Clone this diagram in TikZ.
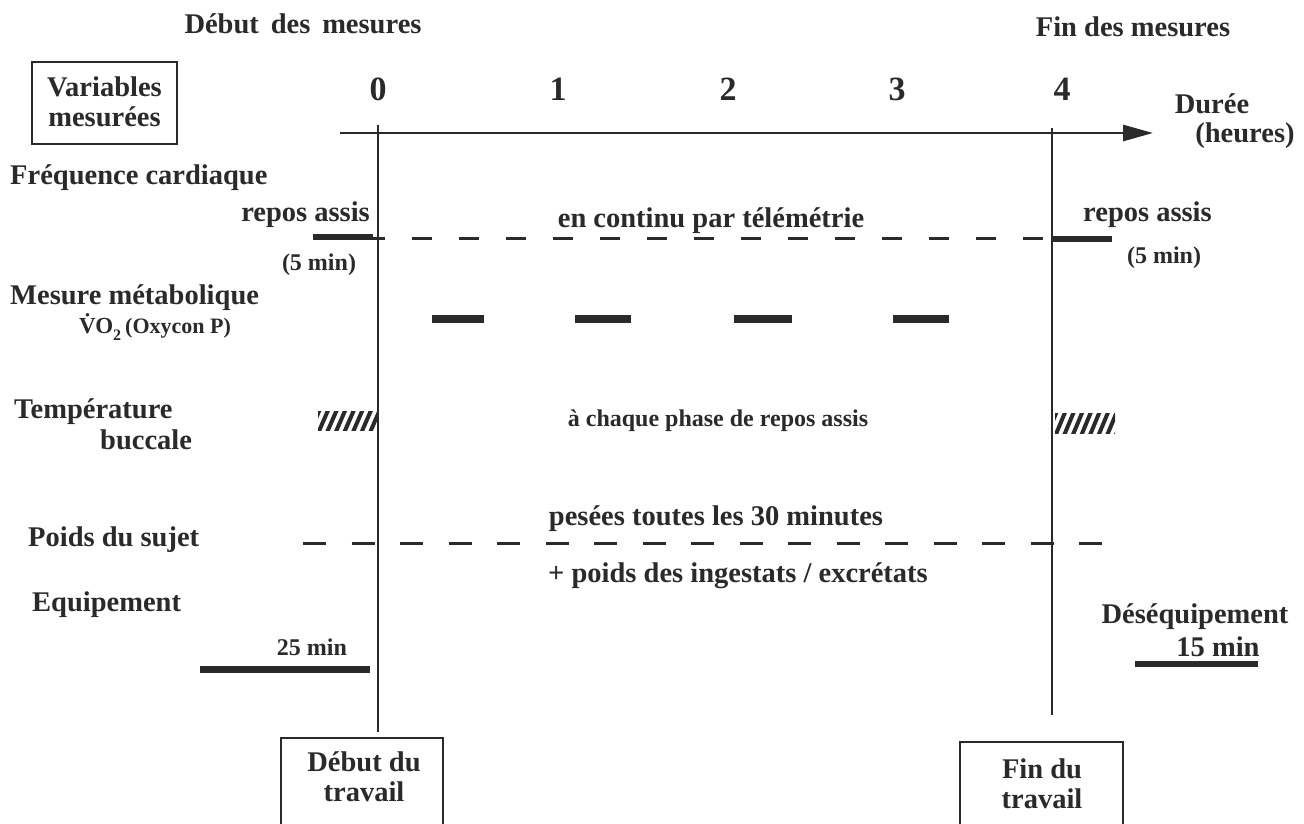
\documentclass[tikz,border=0pt]{standalone}
\usepackage{fontspec}
\setmainfont{Liberation Serif}
\usetikzlibrary{arrows.meta}
\definecolor{ink}{RGB}{42,42,42}
\tikzset{
  lbl/.style={text=ink, font=\bfseries\fontsize{28.5}{30}\selectfont, inner sep=0pt},
  mid/.style={text=ink, font=\bfseries\fontsize{24}{26}\selectfont, inner sep=0pt},
  sml/.style={text=ink, font=\bfseries\fontsize{22}{24}\selectfont, inner sep=0pt},
  num/.style={text=ink, font=\bfseries\fontsize{34}{36}\selectfont, inner sep=0pt},
  framebox/.style={draw=ink, line width=2.4pt, inner sep=0pt},
  axisline/.style={draw=ink, line width=2.8pt},
  vline/.style={draw=ink, line width=2.8pt},
  dashline/.style={draw=ink, line width=3pt},
  thickbar/.style={draw=ink, line width=6.5pt},
  metbar/.style={draw=ink, line width=8pt},
  hatch/.style={draw=ink, line width=4pt},
}
\begin{document}
\begin{tikzpicture}[x=1pt,y=-1pt]
\useasboundingbox (0,0) rectangle (1304,823);
\clip (0,0) rectangle (1304,823);
\fill[white] (0,0) rectangle (1304,823);

% top titles
\node[lbl] (debmes) at (303,24) {Début\, des\, mesures};
\node[lbl] (finmes) at (1133,27) {Fin des mesures};

% variables box
\node[framebox, minimum width=145pt, minimum height=82pt] (varbox) at (104.5,103) {};
\node[lbl, align=center] (vartxt) at (104.5,102) {Variables\\mesurées};

% numbers
\node[num] (n0) at (378,89) {0};
\node[num] (n1) at (558,89) {1};
\node[num] (n2) at (728,89) {2};
\node[num] (n3) at (897,89) {3};
\node[num] (n4) at (1062,89) {4};

% axis
\coordinate (axL) at (340,133);
\coordinate (axR) at (1153,133);
\draw[axisline, -{Triangle[length=30pt,width=16pt]}] (axL) -- (axR);
\node[lbl] (duree) at (1212,104) {Durée};
\node[lbl] (heures) at (1245,136) {(heures)};

% vertical lines
\coordinate (v0t) at (378,125);
\coordinate (v0b) at (378,732);
\coordinate (v4t) at (1052,128);
\coordinate (v4b) at (1052,715);
\draw[vline] (v0t) -- (v0b);
\draw[vline] (v4t) -- (v4b);

% Frequence cardiaque
\node[lbl, anchor=west] (freq) at (10,178) {Fréquence cardiaque};
\node[lbl, anchor=east] (rep0) at (370,215) {repos assis};
\node[lbl, anchor=west] (rep4) at (1083,215) {repos assis};
\node[mid] (min0) at (319,265) {(5 min)};
\node[mid] (min4) at (1164,258) {(5 min)};
\node[lbl] (cont) at (711,221) {en continu par télémétrie};
\coordinate (f0a) at (313,237);
\coordinate (f0b) at (373,237);
\coordinate (f4a) at (1052,239);
\coordinate (f4b) at (1112,239);
\draw[thickbar] (f0a) -- (f0b);
\draw[thickbar] (f4a) -- (f4b);
\coordinate (fda) at (365,238);
\coordinate (fdb) at (1052,238);
\draw[dashline, dash pattern=on 20pt off 27pt] (fda) -- (fdb);

% Mesure metabolique
\node[lbl, anchor=west] (meta) at (10,298) {Mesure métabolique};
\node[text=ink, font=\bfseries\fontsize{23}{25}\selectfont, inner sep=0pt, anchor=west] (vo) at (79,327)
  {\.{V}O\raisebox{-7pt}{\fontsize{16}{16}\selectfont 2}};
\node[sml, anchor=west] (oxy) at (125,328) {(Oxycon P)};
\foreach \a/\b [count=\i] in {432/484, 575/631, 734/792, 893/949}{
  \coordinate (m\i a) at (\a,319);
  \coordinate (m\i b) at (\b,319);
  \draw[metbar] (m\i a) -- (m\i b);
}

% Temperature buccale
\node[lbl, anchor=west] (temp) at (14,412) {Température};
\node[lbl, anchor=west] (bucc) at (100,440) {buccale};
\node[mid] (chaque) at (718,421) {à chaque phase de repos assis};
\begin{scope}
  \clip (318,411) rectangle (378,430);
  \foreach \i in {0,...,9} \draw[hatch] ({310+\i*8.6},432) -- ({320+\i*8.6},409);
\end{scope}
\begin{scope}
  \clip (1055,413) rectangle (1115,433);
  \foreach \i in {0,...,9} \draw[hatch] ({1047+\i*8.6},435) -- ({1057+\i*8.6},411);
\end{scope}

% Poids du sujet
\node[lbl, anchor=west] (poids) at (28,540) {Poids du sujet};
\node[lbl] (pesees) at (716,519) {pesées toutes les 30 minutes};
\node[lbl] (ingest) at (738,576) {+ poids des ingestats / excrétats};
\coordinate (pda) at (303,543);
\coordinate (pdb) at (1103,543);
\draw[dashline, dash pattern=on 23pt off 25.5pt] (pda) -- (pdb);

% Equipement
\node[lbl, anchor=west] (equip) at (32,605) {Equipement};
\node[mid] (m25) at (312,647) {25 min};
\coordinate (e25a) at (200,669);
\coordinate (e25b) at (370,669);
\draw[metbar, line width=7pt] (e25a) -- (e25b);

\node[lbl] (desequip) at (1195,617) {Déséquipement};
\node[lbl] (m15) at (1218,647) {15 min};
\coordinate (e15a) at (1135,664);
\coordinate (e15b) at (1258,664);
\draw[thickbar] (e15a) -- (e15b);

% bottom boxes
\node[framebox, minimum width=162pt, minimum height=100pt] (debtrav) at (362,788) {};
\node[lbl, align=center] (debtravtxt) at (364,777) {Début du\\travail};
\node[framebox, minimum width=163pt, minimum height=100pt] (fintrav) at (1041.5,792) {};
\node[lbl, align=center] (fintravtxt) at (1042,784) {Fin du\\travail};
\end{tikzpicture}
\end{document}
